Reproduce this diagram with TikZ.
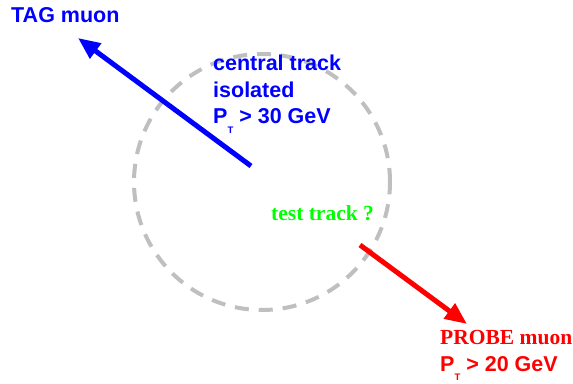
\documentclass[tikz,border=0pt]{standalone}
\usepackage{fontspec}
\setmainfont{Liberation Serif}
\setsansfont{Liberation Sans}
\usetikzlibrary{arrows.meta}
\tikzset{
  every node/.style={inner sep=0pt},
  trk/.style={line width=5pt, -{Triangle[length=22pt, width=18pt]}},
  cone/.style={draw=gray!50, line width=4pt, dash pattern=on 14pt off 10pt},
  lblSans/.style={font=\sffamily\bfseries\fontsize{21.5}{26.5}\selectfont, align=left},
  lblSerif/.style={font=\rmfamily\bfseries\fontsize{21.5}{26}\selectfont},
}
\newcommand{\pT}{P\raisebox{-9.5pt}{\fontsize{9.5}{9.5}\selectfont T}}

\begin{document}
\begin{tikzpicture}[x=1pt, y=1pt]
  \useasboundingbox (0,0) rectangle (573,383);
  % isolation cone round the tag track
  \draw[cone] (262,201) circle (128);
  % tracks
  \coordinate (tagbase) at (251,217);
  \coordinate (tagtip) at (78,345);
  \draw[trk, blue] (tagbase) -- (tagtip);
  \coordinate (probebase) at (360,138);
  \coordinate (probetip) at (467,59);
  \draw[trk, red] (probebase) -- (probetip);
  % labels
  \node[lblSans, blue, anchor=base west] (tag) at (11,360) {TAG muon};
  \node[lblSans, blue, anchor=north west] (iso) at (213,328)
    {central track\\isolated\\\pT{} > 30 GeV};
  \node[lblSerif, green, anchor=base west] (test) at (271,162) {test track ?};
  \node[lblSerif, red, anchor=base west] (probe) at (440,38) {PROBE muon};
  \node[lblSans, red, anchor=base west] (probept) at (440,12) {\pT{} > 20 GeV};
\end{tikzpicture}
\end{document}
